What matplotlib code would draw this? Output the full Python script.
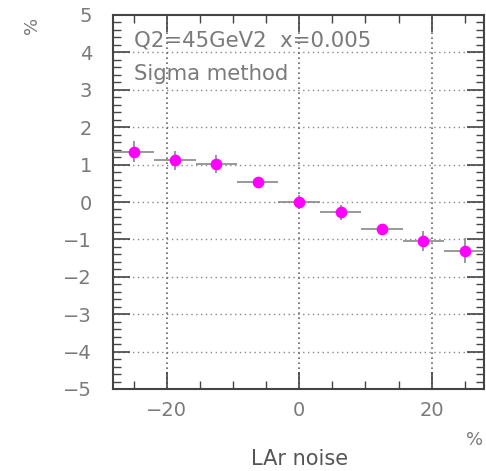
import matplotlib
matplotlib.use("Agg")
import matplotlib.pyplot as plt
from matplotlib.ticker import MultipleLocator

# Data
noise_pct = [-25, -18.75, -12.5, -6.25, 0, 6.25, 12.5, 18.75, 25]
shift_pct = [1.35, 1.11, 1.01, 0.54, 0.0, -0.28, -0.73, -1.05, -1.30]
shift_err = [0.27, 0.25, 0.24, 0.10, 0.18, 0.21, 0.10, 0.27, 0.33]
bin_halfwidth = [3.125] * 9
y_ticks = [-5, -4, -3, -2, -1, 0, 1, 2, 3, 4, 5]
x_ticks = [-20, 0, 20]

gray = "#7a7a7a"
fig = plt.figure(figsize=(4.86, 4.71), dpi=100)
fig.patch.set_facecolor("white")
ax = fig.add_axes([113/486, 82/471, 371/486, 374/471])

ax.errorbar(noise_pct, shift_pct, yerr=shift_err, xerr=bin_halfwidth,
            fmt="o", color="#ff00ff", markersize=7.4, ecolor="#888888",
            elinewidth=1.2, capsize=0, zorder=3)

ax.set_xlim(-28.1, 27.9)
ax.set_ylim(-5, 5)
ax.set_xticks(x_ticks)
ax.set_yticks(y_ticks)
ax.set_xticklabels(["\u221220", "0", "20"])
ax.set_yticklabels([("\u2212%d" % -v) if v < 0 else str(v) for v in y_ticks])
ax.xaxis.set_minor_locator(MultipleLocator(5))
ax.yaxis.set_minor_locator(MultipleLocator(0.2))

for v in y_ticks[1:-1]:
    ax.axhline(v, color="#888888", lw=1.0, ls=(0, (1, 2.5)), zorder=1)
for v in x_ticks:
    ax.axvline(v, color="#666666", lw=1.2, ls=(0, (1, 2)), zorder=1)

ax.tick_params(which="both", direction="in", top=True, right=True,
               colors="#444444", labelcolor=gray)
ax.tick_params(which="major", length=12, width=1.2, labelsize=14)
ax.tick_params(which="minor", length=5.5, width=1.0)
ax.tick_params(axis="y", which="major", pad=15)
ax.tick_params(axis="x", which="major", pad=9)
for s in ax.spines.values():
    s.set_color("#444444")
    s.set_linewidth(1.5)

ax.text(0.057, 0.933, "Q2=45GeV2  x=0.005", transform=ax.transAxes,
        fontsize=15.3, color=gray, va="center", ha="left")
ax.text(0.057, 0.842, "Sigma method", transform=ax.transAxes,
        fontsize=15.3, color=gray, va="center", ha="left")

fig.text(0.066, 0.947, "%", rotation=90, fontsize=13, color=gray,
         ha="center", va="center")
fig.text(0.977, 0.066, "%", fontsize=13, color=gray, ha="center", va="center")
fig.text(0.617, 0.025, "LAr noise", fontsize=15, color="#555555",
         ha="center", va="center")

fig.savefig("out.png", dpi=100, facecolor="white")
